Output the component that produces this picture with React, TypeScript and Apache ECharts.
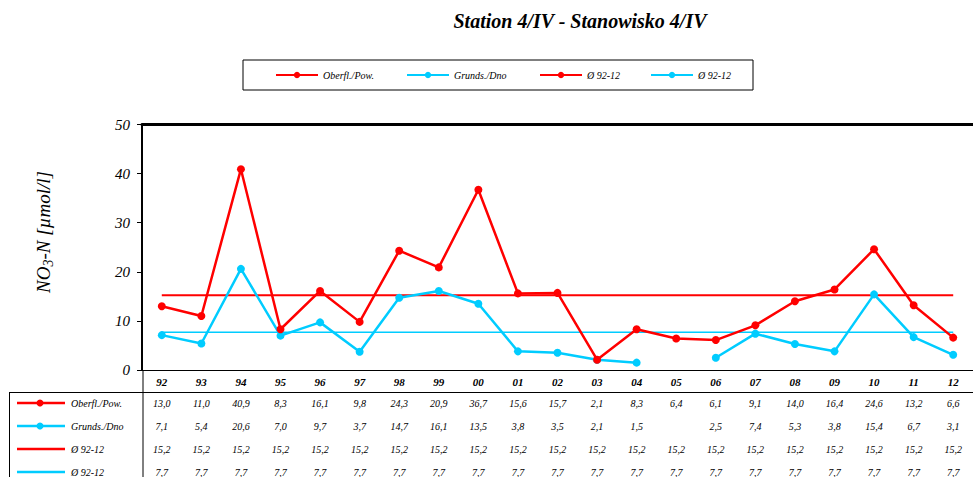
import React, { useEffect, useRef } from "react";
import * as echarts from "echarts";

const categories = ["92", "93", "94", "95", "96", "97", "98", "99", "00", "01", "02", "03", "04", "05", "06", "07", "08", "09", "10", "11", "12"];
const surface = [13.0, 11.0, 40.9, 8.3, 16.1, 9.8, 24.3, 20.9, 36.7, 15.6, 15.7, 2.1, 8.3, 6.4, 6.1, 9.1, 14.0, 16.4, 24.6, 13.2, 6.6];
const bottom = [7.1, 5.4, 20.6, 7.0, 9.7, 3.7, 14.7, 16.1, 13.5, 3.8, 3.5, 2.1, 1.5, null, 2.5, 7.4, 5.3, 3.8, 15.4, 6.7, 3.1];
const meanSurface = 15.2;
const meanBottom = 7.7;
const seriesNames = ["Oberfl./Pow.", "Grunds./Dno", "mean92-12 surface", "mean92-12 bottom"];
const legendLabels = ["Oberfl./Pow.", "Grunds./Dno", "Ø 92-12", "Ø 92-12"];
const titleText = "Station 4/IV - Stanowisko 4/IV";
const yMin = 0;
const yMax = 50;
const yInterval = 10;

const RED = "#ff0000";
const CYAN = "#00ccff";
const SERIF = "'Times New Roman', 'Liberation Serif', 'DejaVu Serif', serif";

const fmt = (v: number | null) => (v == null ? "" : v.toFixed(1).replace(".", ","));

export default function App() {
  const ref = useRef<HTMLDivElement>(null);
  useEffect(() => {
    if (!ref.current) return;
    const chart = echarts.init(ref.current, undefined, { renderer: "svg" });
    const meanS = categories.map(() => meanSurface);
    const meanB = categories.map(() => meanBottom);
    const rows = [surface, bottom, meanS, meanB];
    const rowColors = [RED, CYAN, RED, CYAN];
    const rowWidths = [2.5, 2.5, 2.5, 2.5];
    const rowMarkers = [true, true, false, false];
    const rowOffsets = [22, 45, 68, 91];
    const gridBottomY = 370;

    const tableTextStyle = {
      fontFamily: SERIF,
      fontStyle: "italic" as const,
      fontSize: 10,
      color: "#000",
    };

    const xAxes: any[] = [
      {
        type: "category",
        data: categories,
        position: "bottom",
        boundaryGap: true,
        axisLine: { show: true, lineStyle: { color: "#000", width: 1 } },
        axisTick: { show: false },
        axisLabel: { margin: 6, ...tableTextStyle, fontSize: 11, fontWeight: "bold" },
      },
      {
        type: "category",
        data: categories,
        position: "top",
        boundaryGap: true,
        axisLine: { show: true, lineStyle: { color: "#000", width: 3 } },
        axisTick: { show: false },
        axisLabel: { show: false },
      },
    ];
    rows.forEach((row, i) => {
      xAxes.push({
        type: "category",
        data: categories,
        position: "bottom",
        offset: rowOffsets[i],
        boundaryGap: true,
        axisLine: { show: i === 0, lineStyle: { color: "#000", width: 1 } },
        axisTick: { show: false },
        axisLabel: {
          margin: 6,
          ...tableTextStyle,
          formatter: (_v: string, idx: number) => fmt(row[idx] as number | null),
        },
      });
    });

    const graphics: any[] = [
      {
        type: "text",
        x: 580,
        y: 21,
        style: {
          text: titleText,
          align: "center",
          verticalAlign: "middle",
          fontFamily: SERIF,
          fontStyle: "italic",
          fontWeight: "bold",
          fontSize: 20,
          fill: "#000",
        },
      },
      { type: "rect", shape: { x: 243, y: 60, width: 510, height: 30 }, style: { fill: "none", stroke: "#000", lineWidth: 1 } },
      { type: "line", shape: { x1: 9, y1: 392.5, x2: 142, y2: 392.5 }, style: { stroke: "#000", lineWidth: 1 } },
      { type: "line", shape: { x1: 9.5, y1: 392, x2: 9.5, y2: 477 }, style: { stroke: "#000", lineWidth: 1 } },
      { type: "line", shape: { x1: 143, y1: 370, x2: 143, y2: 477 }, style: { stroke: "#000", lineWidth: 1 } },
      {
        type: "text",
        x: 43,
        y: 232,
        rotation: Math.PI / 2,
        style: {
          text: "{a|NO}{s|3}{a|-N [µmol/l]}",
          align: "center",
          verticalAlign: "middle",
          fill: "#000",
          rich: {
            a: { fontFamily: SERIF, fontStyle: "italic", fontSize: 19, lineHeight: 24, verticalAlign: "middle" },
            s: { fontFamily: SERIF, fontStyle: "italic", fontSize: 14, lineHeight: 24, verticalAlign: "bottom" },
          },
        },
      },
    ];
    rows.forEach((_row, i) => {
      const y = gridBottomY + rowOffsets[i] + 11;
      graphics.push({ type: "line", shape: { x1: 17, y1: y, x2: 65, y2: y }, style: { stroke: rowColors[i], lineWidth: rowWidths[i] } });
      if (rowMarkers[i]) {
        graphics.push({ type: "circle", shape: { cx: 40, cy: y, r: 3.5 }, style: { fill: rowColors[i] } });
      }
      graphics.push({
        type: "text",
        x: 71,
        y,
        style: { text: legendLabels[i], fontFamily: SERIF, fontStyle: "italic", fontSize: 10, fill: "#000", verticalAlign: "middle" },
      });
    });

    const legendLefts = [275, 406, 539, 650];
    const legends = seriesNames.map((name, i) => ({
      data: [name],
      left: legendLefts[i],
      top: 70,
      padding: 0,
      itemWidth: 42,
      itemHeight: 8,
      itemGap: 0,
      selectedMode: false,
      formatter: () => legendLabels[i],
      textStyle: { fontFamily: SERIF, fontStyle: "italic", fontSize: 10, color: "#000" },
    }));

    chart.setOption({
      animation: false,
      backgroundColor: "#fff",
      legend: legends,
      grid: { left: 142, top: 124.5, width: 841, height: 245.5, containLabel: false },
      xAxis: xAxes,
      yAxis: {
        type: "value",
        min: yMin,
        max: yMax,
        interval: yInterval,
        axisLine: { show: true, lineStyle: { color: "#000", width: 2 } },
        axisTick: { show: true, inside: false, length: 5, lineStyle: { color: "#000", width: 1 } },
        splitLine: { show: false },
        axisLabel: { margin: 12, fontFamily: SERIF, fontStyle: "italic", fontSize: 15, color: "#000" },
      },
      series: [
        {
          name: seriesNames[0],
          type: "line",
          data: surface,
          color: RED,
          symbol: "circle",
          symbolSize: 8,
          lineStyle: { width: 2.5, color: RED },
          itemStyle: { color: RED },
          z: 4,
        },
        {
          name: seriesNames[1],
          type: "line",
          data: bottom,
          color: CYAN,
          connectNulls: false,
          symbol: "circle",
          symbolSize: 8,
          lineStyle: { width: 2.5, color: CYAN },
          itemStyle: { color: CYAN },
          z: 3,
        },
        {
          name: seriesNames[2],
          type: "line",
          data: meanS,
          color: RED,
          symbol: "none",
          lineStyle: { width: 2, color: RED },
          z: 2,
        },
        {
          name: seriesNames[3],
          type: "line",
          data: meanB,
          color: CYAN,
          symbol: "none",
          lineStyle: { width: 1.5, color: CYAN },
          z: 2,
        },
      ],
      graphic: graphics,
    });
    return () => chart.dispose();
  }, []);
  return <div ref={ref} style={{ position: "fixed", left: 0, top: 0, width: 973, height: 477 }} />;
}
